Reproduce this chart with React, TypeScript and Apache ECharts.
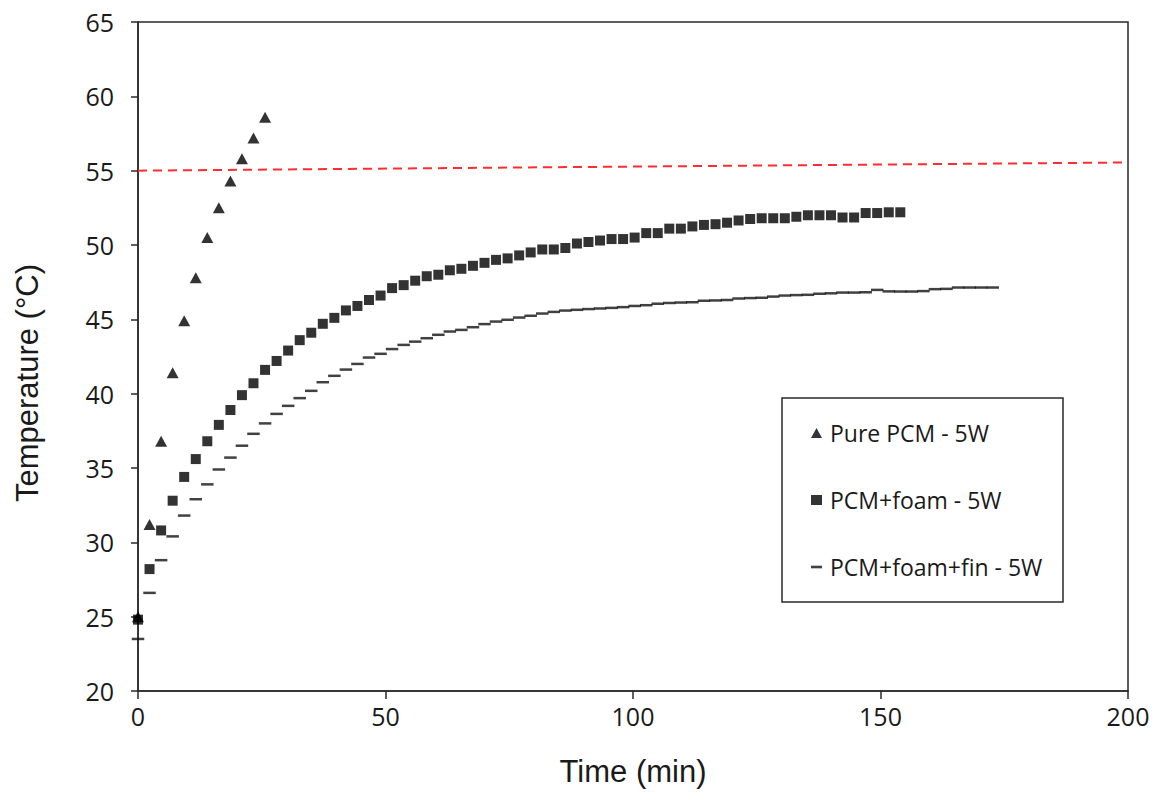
import React, { useEffect, useRef } from "react";
import * as echarts from "echarts";

// Sample times (min)
const time: number[] = [
  0, 2.33, 4.67, 7, 9.33, 11.67, 14, 16.33, 18.67, 21, 23.33, 25.67, 28, 30.33, 32.67,
  35, 37.33, 39.67, 42, 44.33, 46.67, 49, 51.33, 53.67, 56, 58.33, 60.67, 63, 65.33,
  67.67, 70, 72.33, 74.67, 77, 79.33, 81.67, 84, 86.33, 88.67, 91, 93.33, 95.67, 98,
  100.33, 102.67, 105, 107.33, 109.67, 112, 114.33, 116.67, 119, 121.33, 123.67, 126,
  128.33, 130.67, 133, 135.33, 137.67, 140, 142.33, 144.67, 147, 149.33, 151.67, 154,
  156.33, 158.67, 161, 163.33, 165.67, 168, 170.33, 172.67,
];

const purePCM: number[] = [25.0, 31.2, 36.8, 41.4, 44.9, 47.8, 50.5, 52.5, 54.3, 55.8, 57.2, 58.6];

const pcmFoam: number[] = [
  24.8, 28.2, 30.8, 32.8, 34.4, 35.6, 36.8, 37.9, 38.9, 39.9,
  40.7, 41.6, 42.2, 42.9, 43.6, 44.1, 44.7, 45.1, 45.6, 45.9,
  46.3, 46.6, 47.1, 47.3, 47.6, 47.9, 48.0, 48.3, 48.4, 48.6,
  48.8, 49.0, 49.1, 49.3, 49.5, 49.7, 49.7, 49.8, 50.1, 50.2,
  50.3, 50.4, 50.4, 50.5, 50.8, 50.8, 51.1, 51.1, 51.25, 51.35,
  51.4, 51.5, 51.65, 51.75, 51.8, 51.8, 51.8, 51.9, 52.0, 52.0,
  52.0, 51.85, 51.85, 52.15, 52.15, 52.2, 52.2,
];

const pcmFoamFin: number[] = [
  23.5, 26.6, 28.8, 30.4, 31.8, 32.9, 33.9, 34.9, 35.7, 36.5,
  37.3, 38.0, 38.64, 39.18, 39.7, 40.19, 40.77, 41.2, 41.62, 42.0,
  42.43, 42.68, 43.0, 43.28, 43.5, 43.73, 43.96, 44.18, 44.29, 44.47,
  44.68, 44.85, 44.97, 45.12, 45.24, 45.39, 45.5, 45.59, 45.64, 45.69,
  45.73, 45.77, 45.82, 45.9, 45.95, 46.05, 46.1, 46.13, 46.15, 46.25,
  46.27, 46.3, 46.4, 46.43, 46.45, 46.53, 46.6, 46.63, 46.65, 46.72,
  46.75, 46.8, 46.8, 46.82, 46.98, 46.88, 46.87, 46.87, 46.9, 47.03,
  47.05, 47.14, 47.14, 47.14, 47.14,
];

const limitX: number[] = [0, 200];
const limitY: number[] = [55, 55.55];

const seriesNames: string[] = ["Pure PCM - 5W", "PCM+foam - 5W", "PCM+foam+fin - 5W"];

const pairs = (xs: number[], ys: number[]) => ys.map((v, i) => [xs[i], v]);

export default function App() {
  const ref = useRef<HTMLDivElement>(null);
  useEffect(() => {
    if (!ref.current) return;
    const chart = echarts.init(ref.current, undefined, { renderer: "svg" });
    const axisColor = "#2a2a2a";
    const tickFont = { fontFamily: "Open Sans", fontSize: 25, color: "#1a1a1a" };
    chart.setOption({
      animation: false,
      backgroundColor: "#fff",
      grid: {
        left: 138,
        top: 22,
        right: 27,
        bottom: 112,
        show: true,
        borderColor: axisColor,
        borderWidth: 1.5,
        backgroundColor: "transparent",
      },
      xAxis: {
        type: "value",
        min: 0,
        max: 200,
        interval: 50,
        name: "Time (min)",
        nameLocation: "middle",
        nameGap: 65,
        nameTextStyle: { fontFamily: "Liberation Sans", fontSize: 31, color: "#1a1a1a" },
        axisLine: { show: true, lineStyle: { color: axisColor, width: 1.5 } },
        axisTick: { show: true, length: 8, lineStyle: { color: axisColor, width: 1.5 } },
        axisLabel: { ...tickFont, margin: 12 },
        splitLine: { show: false },
      },
      yAxis: {
        type: "value",
        min: 20,
        max: 65,
        interval: 5,
        axisLine: { show: true, lineStyle: { color: axisColor, width: 1.5 } },
        axisTick: { show: true, length: 7, lineStyle: { color: axisColor, width: 1.5 } },
        axisLabel: { ...tickFont, margin: 24 },
        splitLine: { show: false },
      },
      legend: {
        left: 811,
        top: 420,
        orient: "vertical",
        padding: 0,
        itemGap: 41,
        itemWidth: 11,
        itemHeight: 10,
        textStyle: {
          fontFamily: "Open Sans",
          fontSize: 23,
          lineHeight: 26,
          color: "#1a1a1a",
          padding: [0, 0, 0, 3],
        },
        data: [
          { name: seriesNames[0], icon: "triangle" },
          { name: seriesNames[1], icon: "rect" },
          { name: seriesNames[2], icon: "path://M0 0H10V2.4H0Z" },
        ],
      },
      graphic: [
        {
          type: "rect",
          shape: { x: 782, y: 398, width: 281, height: 204 },
          style: { fill: "none", stroke: axisColor, lineWidth: 1.5 },
          silent: true,
        },
        {
          type: "text",
          x: 27,
          y: 383,
          rotation: Math.PI / 2,
          style: {
            text: "Temperature (°C)",
            fontFamily: "Liberation Sans",
            fontSize: 31,
            fill: "#1a1a1a",
            align: "center",
            verticalAlign: "middle",
          },
        },
      ],
      series: [
        {
          name: "limit",
          type: "line",
          data: pairs(limitX, limitY),
          symbol: "none",
          silent: true,
          lineStyle: { color: "#ff2d2d", width: 2, type: [9, 6] },
          z: 1,
        },
        {
          name: seriesNames[2],
          type: "scatter",
          data: pairs(time, pcmFoamFin),
          symbol: "rect",
          symbolSize: [12.5, 2.5],
          itemStyle: { color: "#111" },
          z: 2,
        },
        {
          name: seriesNames[0],
          type: "scatter",
          data: pairs(time, purePCM),
          symbol: "triangle",
          symbolSize: [12, 11],
          itemStyle: { color: "#000" },
          z: 3,
        },
        {
          name: seriesNames[1],
          type: "scatter",
          data: pairs(time, pcmFoam),
          symbol: "rect",
          symbolSize: 10,
          itemStyle: { color: "#000" },
          z: 4,
        },
      ],
    });
    return () => chart.dispose();
  }, []);
  return (
    <div
      ref={ref}
      style={{ position: "fixed", left: 0, top: 0, width: 1155, height: 803 }}
    />
  );
}
